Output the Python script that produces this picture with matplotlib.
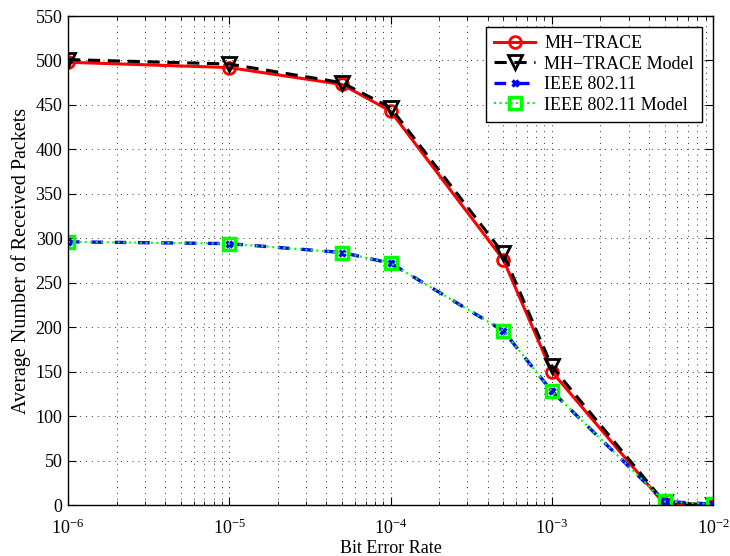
import numpy as np
import matplotlib
matplotlib.use('Agg')
import matplotlib.pyplot as plt
from matplotlib.ticker import LogLocator, NullFormatter, MultipleLocator

# data
ber = [1e-6, 1e-5, 5e-5, 1e-4, 5e-4, 1e-3, 5e-3, 1e-2]
mh_trace = [498, 492, 473, 443, 276, 150, 1, 0]
mh_trace_model = [501, 496, 475, 447, 283, 156, 3, 0]
ieee = [296, 294, 284, 272, 196, 128, 4, 1]
ieee_model = [296, 294, 284, 272, 196, 128, 4, 1]

plt.rcParams['font.family'] = ['Liberation Serif', 'DejaVu Serif']
plt.rcParams['mathtext.fontset'] = 'stix'

fig = plt.figure(figsize=(7.3, 5.56), dpi=100)
ax = fig.add_axes([0.0932, 0.0917, 0.8836, 0.8795])

ax.plot(ber, mh_trace, color='red', linestyle='-', linewidth=2.2, marker='o',
        markersize=8.5, markerfacecolor='none', markeredgewidth=2, label='MH\u2212TRACE')
ax.plot(ber, mh_trace_model, color='black', linestyle=(0, (4, 2.5)), linewidth=2.2, marker='v',
        markersize=10, markerfacecolor='none', markeredgewidth=2, label='MH\u2212TRACE Model')
ax.plot(ber, ieee, color='blue', linestyle=(0, (3.5, 3.5)), linewidth=2.4, marker='x',
        markersize=5, markeredgewidth=2.5, label='IEEE 802.11')
ax.plot(ber, ieee_model, color='#00ff00', linestyle=':', linewidth=1.5, marker='s',
        markersize=8.5, markerfacecolor='none', markeredgewidth=2.5, label='IEEE 802.11 Model')

ax.set_xscale('log')
ax.set_xlim(1e-6, 1e-2)
ax.set_ylim(0, 550)
ax.yaxis.set_major_locator(MultipleLocator(50))
ax.xaxis.set_major_locator(LogLocator(base=10, numticks=10))
ax.xaxis.set_minor_locator(LogLocator(base=10, subs=np.arange(2, 10), numticks=20))
ax.xaxis.set_minor_formatter(NullFormatter())

ax.grid(True, which='major', axis='both', color='#333333', linestyle=(0, (1, 5)), linewidth=0.7)
ax.grid(True, which='minor', axis='x', color='#333333', linestyle=(0, (1, 5)), linewidth=0.7)

ax.tick_params(which='both', direction='in', top=True, right=True, labelsize=13)
ax.tick_params(which='major', length=6)
ax.tick_params(which='minor', length=3)
ax.tick_params(axis='x', which='major', pad=10)
ax.tick_params(axis='y', which='major', pad=4)
for s in ax.spines.values():
    s.set_linewidth(1.0)

ax.set_xlabel('Bit Error Rate', fontsize=13, labelpad=1)
ax.set_ylabel('Average Number of Received Packets', fontsize=14.5, labelpad=3)

leg = ax.legend(loc='upper right', fontsize=13, fancybox=False, framealpha=1,
                edgecolor='black', handlelength=2.3, borderaxespad=0.6, borderpad=0.45,
                labelspacing=0.2, handletextpad=0.5)
leg.get_frame().set_linewidth(1.0)

fig.savefig('out.png', dpi=100)
